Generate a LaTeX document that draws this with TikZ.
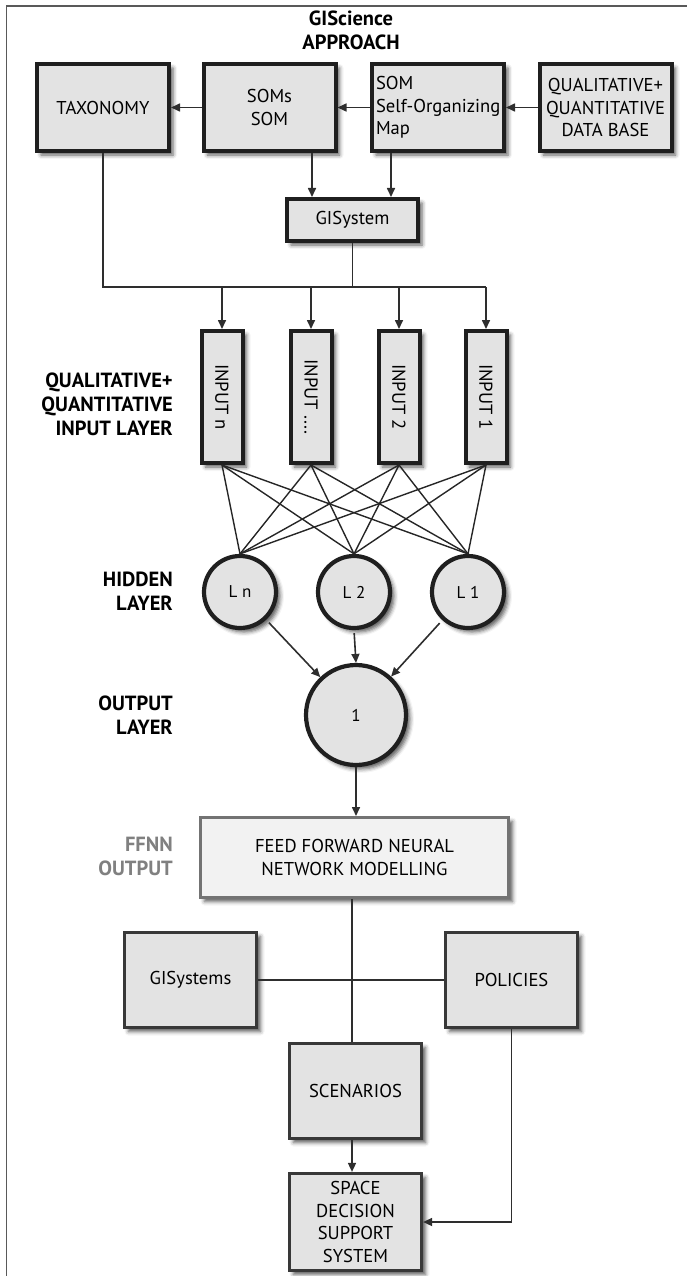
\documentclass[tikz,border=0pt]{standalone}
\usepackage{fontspec}
\setmainfont{PT Sans}
\usetikzlibrary{arrows.meta,shadows.blur,calc}
\begin{document}
\begin{tikzpicture}[x=1pt,y=-1pt,
  every node/.style={font=\fontsize{18.6}{22.5}\selectfont},
  shad/.style={blur shadow={shadow xshift=4pt,shadow yshift=-4pt,shadow blur radius=4pt,shadow opacity=65}},
  topbox/.style={draw=black!88,line width=4pt,fill=black!11,shad,minimum width=132pt,minimum height=87pt,align=center,inner sep=1pt},
  inbox/.style={draw=black!88,line width=4pt,fill=black!11,shad,minimum width=41pt,minimum height=132pt,inner sep=0pt},
  lowbox/.style={draw=black!78,line width=3.2pt,fill=black!11,shad,minimum width=132pt,minimum height=95pt,align=center,inner sep=1pt},
  neuron/.style={circle,draw=black!88,line width=4.2pt,fill=black!11,shad,inner sep=0pt,font=\fontsize{17}{20}\selectfont},
  lab/.style={anchor=east,align=right,inner sep=0pt,font=\fontsize{20.5}{24}\selectfont\bfseries},
  conn/.style={draw=black!82,line width=1.6pt},
  arr/.style={conn,-{Triangle[length=9pt,width=8pt]}},
  web/.style={draw=black!85,line width=1.4pt}
]
\useasboundingbox (0,0) rectangle (687,1276);
\draw[black!65,line width=1.5pt] (6.5,1276) -- (6.5,6) -- (687,6);

% title
\node[font=\fontsize{20.5}{24}\selectfont\bfseries,align=center] (title) at (351,30) {GIScience\\APPROACH};

% top row
\node[topbox] (tax) at (103,107.5) {TAXONOMY};
\node[topbox] (soms) at (269.5,107.5) {SOMs\\SOM};
\node[topbox,align=left,text width=124pt,inner xsep=4pt] (som) at (438,107.5) {SOM\\\mbox{Self-Organizing}\\Map};
\node[topbox] (db) at (605.5,107.5) {QUALITATIVE+\\QUANTITATIVE\\DATA BASE};

\draw[arr] (db.west) -- (som.east);
\draw[arr] (som.west) -- (soms.east);
\draw[arr] (soms.west) -- (tax.east);

\node[draw=black!88,line width=4pt,fill=black!11,shad,minimum width=131pt,minimum height=42pt,inner sep=1pt] (gis) at (352.5,220) {GISystem};

\coordinate (xa) at (312,0);
\coordinate (xb) at (391,0);
\draw[arr] (soms.south -| xa) -- (gis.north -| xa);
\draw[arr] (som.south -| xb) -- (gis.north -| xb);

% inputs
\node[inbox] (in4) at (222,397) {\rotatebox{-90}{INPUT n}};
\node[inbox] (in3) at (311,397) {\rotatebox{-90}{INPUT ....}};
\node[inbox] (in2) at (399,397) {\rotatebox{-90}{INPUT 2}};
\node[inbox] (in1) at (486,397) {\rotatebox{-90}{INPUT 1}};

\coordinate (bus) at (0,287);
\draw[conn] (tax.south) -- (tax.south |- bus) -- (in1.north |- bus);
\draw[conn] (gis.south) -- (gis.south |- bus);
\foreach \i in {1,2,3,4} \draw[arr] (in\i.north |- bus) -- (in\i.north);

% hidden
\node[neuron,minimum size=72pt] (hn) at (240,592) {L n};
\node[neuron,minimum size=72pt] (h2) at (354,592) {L 2};
\node[neuron,minimum size=72pt] (h1) at (468,592) {L 1};

\foreach \i in {1,2,3,4} \foreach \h in {hn,h2,h1} \draw[web] (in\i.south) -- (\h.north);

% output
\node[neuron,minimum size=100pt] (out) at (356,715) {1};
\draw[arr,shorten <=4pt] (hn) -- (out);
\draw[arr,shorten <=3pt] (h2.south) -- (out.north);
\draw[arr,shorten <=4pt] (h1) -- (out);

% FFNN
\node[draw=black!55,line width=3pt,fill=black!5,shad,minimum width=308pt,minimum height=80pt,align=center,inner sep=1pt] (ffnn) at (354.5,857.5) {FEED FORWARD NEURAL\\NETWORK MODELLING};
\draw[arr] (out.south) -- (out.south |- ffnn.north);

% lower boxes
\node[lowbox] (gsys) at (190.5,980) {GISystems};
\node[lowbox] (pol) at (511.5,980) {POLICIES};
\node[lowbox] (scen) at (355.5,1091) {SCENARIOS};
\node[lowbox,minimum height=97pt] (sdss) at (355.5,1222) {SPACE\\DECISION\\SUPPORT\\SYSTEM};

\draw[conn] (gsys.east) -- (pol.west);
\coordinate (xc) at (352,0);
\draw[conn] (ffnn.south -| xc) -- (scen.north -| xc);
\draw[arr] (scen.south -| xc) -- (sdss.north -| xc);
\draw[arr] (pol.south) |- (sdss.east);

% side labels
\node[lab] (l1) at (173,404) {QUALITATIVE+\\QUANTITATIVE\\INPUT LAYER};
\node[lab] (l2) at (173,591) {HIDDEN\\LAYER};
\node[lab] (l3) at (173,715) {OUTPUT\\LAYER};
\node[lab,text=black!50] (l4) at (173,856.5) {FFNN\\OUTPUT};
\end{tikzpicture}
\end{document}
